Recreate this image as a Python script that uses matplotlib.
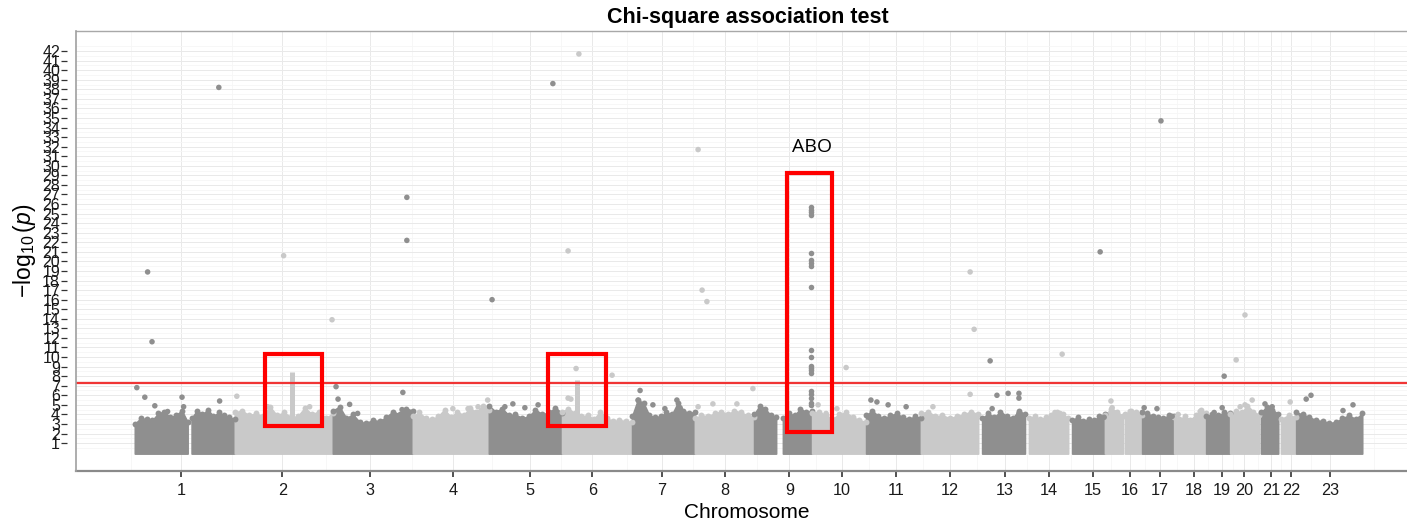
import numpy as np
import matplotlib
matplotlib.use("Agg")
import matplotlib.pyplot as plt
from matplotlib.patches import Rectangle

plt.rcParams['font.family'] = ['Liberation Sans', 'DejaVu Sans']
plt.rcParams['mathtext.fontset'] = 'custom'
plt.rcParams['mathtext.rm'] = 'Liberation Sans'
plt.rcParams['mathtext.it'] = 'Liberation Sans:italic'

# chromosome tick positions (cumulative position, Mb)
chrom_labels = [str(i) for i in range(1, 24)]
chrom_ticks = [116, 369, 588, 796, 988, 1144, 1318, 1475, 1636, 1768, 1903, 2038,
               2174, 2284, 2394, 2487, 2563, 2647, 2717, 2773, 2840, 2890, 2988]

# dense body of each chromosome: segment extent and the height of the top edge
seg_chr = [1, 1, 2, 3, 4, 5, 6, 7, 8, 9, 9, 10, 11, 12, 13, 14, 15, 16, 16,
           17, 18, 19, 20, 21, 22, 23]
seg_start = [0, 142, 250, 495, 695, 885, 1068, 1243, 1400, 1548, 1620, 1693, 1828,
             1965, 2118, 2235, 2343, 2425, 2475, 2518, 2598, 2678, 2738, 2815, 2865, 2903]
seg_end = [132, 250, 495, 695, 885, 1068, 1243, 1400, 1548, 1603, 1693, 1828, 1965,
           2108, 2225, 2333, 2425, 2470, 2518, 2598, 2678, 2738, 2810, 2858, 2903, 3068]
seg_top = [
    [3.0, 3.6, 3.5, 3.4, 4.1, 4.3, 3.7, 3.9, 4.4, 3.2],
    [3.6, 4.4, 4.0, 4.5, 3.8, 4.2, 3.9, 3.7, 3.5],
    [4.2, 4.4, 3.9, 4.1, 3.8, 4.8, 3.9, 4.2, 3.7, 3.8, 4.7, 4.0, 4.3, 3.6, 4.1],
    [4.4, 4.8, 3.6, 4.0, 3.2, 3.1, 3.4, 3.3, 3.7, 4.3, 4.0, 4.6, 4.4],
    [3.8, 4.2, 3.6, 3.5, 3.8, 4.5, 3.7, 4.3, 3.9, 4.7, 4.2, 4.9, 4.5],
    [4.9, 4.3, 4.6, 3.9, 4.0, 3.6, 3.8, 4.5, 4.0, 4.2, 4.7, 4.1],
    [4.3, 4.6, 4.1, 3.8, 3.9, 3.5, 4.3, 3.6, 3.3, 3.4, 3.3, 3.2],
    [3.8, 5.5, 5.2, 3.9, 3.7, 3.8, 4.2, 4.0, 5.2, 4.4, 4.1, 4.3],
    [3.6, 3.9, 3.8, 4.1, 4.3, 4.0, 4.4, 4.2, 3.9, 3.7],
    [4.0, 4.9, 4.6, 3.9, 3.7],
    [3.6, 4.1, 3.9, 4.6, 4.2, 4.4],
    [4.1, 4.3, 3.9, 3.5, 4.0, 4.2, 3.7, 3.4, 3.2],
    [3.9, 4.4, 3.8, 3.6, 3.9, 4.1, 3.7, 3.5, 3.8, 3.6],
    [4.1, 4.3, 3.8, 3.9, 3.6, 3.8, 4.0, 4.3, 4.0],
    [3.6, 4.1, 3.7, 4.3, 3.8, 3.6, 4.4, 4.0],
    [3.6, 3.8, 3.5, 3.7, 3.9, 4.2, 4.0, 3.6],
    [3.4, 3.7, 3.3, 3.5, 3.4, 3.8, 4.0],
    [3.9, 4.6, 4.3, 3.8],
    [4.0, 4.4, 4.2, 3.9],
    [4.3, 4.1, 3.8, 3.7, 3.6, 3.9, 3.8],
    [3.7, 3.5, 3.8, 3.4, 3.9, 4.5, 4.1],
    [3.8, 4.0, 3.9, 4.2, 4.1],
    [4.0, 4.4, 4.2, 4.9, 4.3, 3.9],
    [4.2, 4.8, 4.5, 4.0],
    [3.5, 3.9, 3.7],
    [4.2, 4.0, 3.7, 3.4, 3.3, 3.1, 3.2, 3.6, 3.9, 3.5, 4.1],
]

# narrow peaks rising out of the dense body
spike_chr = [2, 6]
spike_x = [392, 1105]
spike_top = [8.4, 7.6]

# individual SNPs above the dense body
snp_chr = [1, 1, 1, 1, 1, 1, 1, 1, 1, 1,
           2, 2, 2, 2, 2,
           3, 3, 3, 3, 3, 3, 3, 3,
           4, 4, 4, 4,
           5, 5, 5, 5, 5, 5,
           6, 6, 6, 6, 6, 6,
           7, 7, 7, 7, 7, 7,
           8, 8, 8, 8, 8, 8, 8,
           10, 10, 10, 10,
           11, 11, 11, 11,
           12, 12, 12, 12,
           13, 13, 13, 13, 13, 13, 13,
           14, 14, 14,
           15, 15,
           16, 16, 16,
           17, 17, 17, 17,
           18, 18,
           19, 19, 19,
           20, 20, 20, 20, 20,
           21, 21,
           22,
           23, 23, 23, 23]
snp_x = [32, 43, 210, 5, 25, 50, 118, 122, 212, 82,
         255, 372, 332, 437, 493,
         503, 508, 537, 557, 670, 668, 680, 680,
         795, 833, 858, 882,
         893, 925, 945, 975, 1008, 1045,
         1083, 1110, 1103, 1083, 1090, 1193,
         1263, 1258, 1295, 1325, 1355, 1363,
         1408, 1418, 1430, 1408, 1445, 1505, 1545,
         1778, 1708, 1728, 1755,
         1840, 1855, 1883, 1928,
         1995, 2088, 2098, 2088,
         2138, 2143, 2155, 2183, 2210, 2210, 2210,
         2318, 2300, 2313,
         2413, 2423,
         2440, 2443, 2488,
         2565, 2523, 2555, 2593,
         2608, 2663,
         2723, 2698, 2718,
         2753, 2775, 2763, 2775, 2793,
         2825, 2843,
         2888,
         2928, 2940, 3020, 3045]
snp_p = [18.9, 11.6, 38.2, 6.8, 5.8, 4.9, 5.8, 4.8, 5.4, 4.3,
         5.9, 20.6, 4.8, 4.8, 13.9,
         6.9, 5.6, 5.05, 4.1, 6.3, 4.5, 26.7, 22.2,
         4.6, 4.6, 4.8, 5.5,
         16.0, 4.8, 5.1, 4.7, 5.0, 38.6,
         21.1, 41.7, 8.8, 5.7, 5.6, 8.1,
         6.5, 5.5, 5.0, 4.6, 5.5, 4.7,
         31.7, 17.0, 15.8, 4.8, 5.1, 5.1, 6.7,
         8.9, 5.0, 4.1, 4.6,
         5.5, 5.3, 5.0, 4.8,
         4.8, 18.9, 12.9, 6.1,
         9.6, 4.6, 6.0, 6.2, 6.2, 5.7, 4.1,
         10.3, 4.2, 4.1,
         21.0, 3.7,
         5.4, 4.7, 4.3,
         34.7, 4.7, 4.6, 3.8,
         4.0, 4.3,
         8.0, 4.2, 4.7,
         9.7, 14.4, 4.8, 5.0, 5.5,
         5.1, 4.8,
         5.3,
         5.6, 6.0, 4.4, 5.0]

# ABO locus on chromosome 9
abo_x = 1690
abo_p = [25.7, 25.4, 25.2, 24.9, 20.9, 20.1, 19.8, 19.5, 17.3,
         10.7, 10.0, 9.1, 8.9, 8.6, 8.3, 6.4, 6.1, 5.7, 5.2, 5.0]

threshold = 7.3

# highlighted regions: (x0, x1, y0, y1)
box_x0 = [326, 1034, 1630]
box_x1 = [468, 1178, 1743]
box_y0 = [2.8, 2.8, 2.2]
box_y1 = [10.35, 10.35, 29.2]

DARK = '#8F8F8F'
LIGHT = '#C9C9C9'


def chrom_color(c):
    return DARK if c % 2 == 1 else LIGHT


fig = plt.figure(figsize=(14.07, 5.26), dpi=100)
ax = fig.add_axes([76 / 1407, 55 / 526, 1331 / 1407, 440 / 526])

# dense bodies
for c, s0, s1, top in zip(seg_chr, seg_start, seg_end, seg_top):
    col = chrom_color(c)
    xs = np.linspace(s0, s1, len(top))
    ax.fill_between(xs, -0.1, top, color=col, lw=1.2, edgecolor=col, zorder=2)
    ax.scatter(xs, top, s=18, color=col, lw=0, zorder=3)

for c, x, t in zip(spike_chr, spike_x, spike_top):
    ax.vlines(x, 0, t, colors=chrom_color(c), lw=3.6, zorder=3)

ax.scatter(snp_x, snp_p, s=16, lw=0, zorder=4,
           color=[chrom_color(c) for c in snp_chr])
ax.scatter([abo_x] * len(abo_p), abo_p, s=16, lw=0, color=DARK, zorder=4)

ax.axhline(threshold, color='#F03535', lw=1.6, zorder=5)

for x0, x1, y0, y1 in zip(box_x0, box_x1, box_y0, box_y1):
    ax.add_patch(Rectangle((x0, y0), x1 - x0, y1 - y0, fill=False,
                           edgecolor='#FF0000', lw=3.0, zorder=6))

ax.text(1692, 32.0, 'ABO', ha='center', va='center', fontsize=14,
        family=['Open Sans', 'DejaVu Sans'], color='black', zorder=7)

# axes
ax.set_xlim(-147, 3180)
ax.set_ylim(-1.92, 44.1)
ax.set_xticks(chrom_ticks)
ax.set_xticklabels(chrom_labels)
mids = [(a + b) / 2 for a, b in zip(chrom_ticks[:-1], chrom_ticks[1:])]
ax.set_xticks([chrom_ticks[0] - 126] + mids + [chrom_ticks[-1] + 110], minor=True)
ax.set_yticks(range(1, 43))
ax.set_yticks([v + 0.5 for v in range(0, 43)], minor=True)

ax.grid(which='major', color='#E9E9E9', lw=0.7, zorder=0)
ax.grid(which='minor', color='#F6F6F6', lw=0.6, zorder=0)
ax.set_axisbelow(True)

ax.tick_params(axis='x', which='major', length=4.3, width=1.2, color='#333333',
               labelsize=11.7, pad=4, labelcolor='#1a1a1a')
ax.tick_params(axis='y', which='major', length=4.0, width=0.9, color='#333333',
               labelsize=11.5, pad=1, labelcolor='#1a1a1a')
ax.tick_params(which='minor', length=0)

ax.spines['left'].set_position(('outward', 6.5))
ax.spines['left'].set_color('none')
ax.spines['right'].set_visible(False)
ax.spines['top'].set_color('#A8A8A8')
ax.spines['top'].set_linewidth(1.0)
ax.spines['bottom'].set_color('#8A8A8A')
ax.spines['bottom'].set_linewidth(1.6)
ax.plot([0, 0], [0, 1], transform=ax.transAxes, color='#A0A0A0', lw=1.2,
        clip_on=False, zorder=8)

ax.set_ylabel(r'$-\log_{10}(p)$', fontsize=16.5)
ax.yaxis.set_label_coords(-0.0285, 0.5)

fig.text(748 / 1407, 1 - 18 / 526, 'Chi-square association test',
         ha='center', va='center', fontsize=15.5, fontweight='bold')
fig.text(747 / 1407, 1 - 513 / 526, 'Chromosome', ha='center', va='center',
         fontsize=15)

fig.savefig('out.png', dpi=100)
